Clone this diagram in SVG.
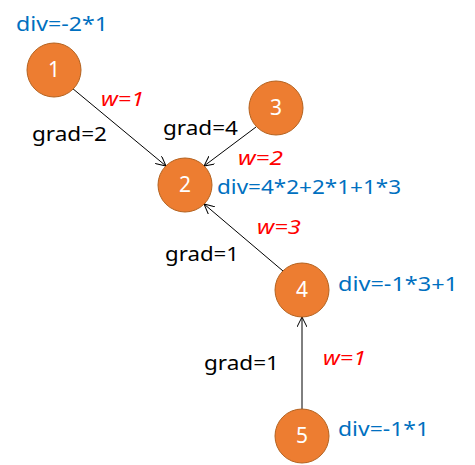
<svg xmlns="http://www.w3.org/2000/svg" width="475" height="465" viewBox="0 0 475 465">
<defs>
<style>
.node circle{fill:#ED7D31;stroke:#B4621F;stroke-width:1}
.node text{fill:#fff;font-family:"Noto Sans","Noto Sans CJK SC",sans-serif;font-size:21px;text-anchor:middle}
.edge{stroke:#000;stroke-width:1;fill:none;marker-end:url(#arr)}
.t{font-family:"Noto Sans","Noto Sans CJK SC",sans-serif;font-size:20px}
.div{fill:#0070C0}
.w{fill:#FF0000;font-style:italic}
.g{fill:#000}
</style>
<marker id="arr" viewBox="0 0 10 10" refX="10" refY="5" markerWidth="10" markerHeight="10" markerUnits="userSpaceOnUse" orient="auto">
<path d="M0,0 L10,5 L0,10" fill="none" stroke="#000" stroke-width="1"/>
</marker>
</defs>
<g id="connectors">
<line class="edge" x1="72" y1="88" x2="166" y2="166"/>
<line class="edge" x1="256" y1="127" x2="204" y2="166"/>
<line class="edge" x1="283" y1="271" x2="204" y2="204"/>
<line class="edge" x1="302" y1="409" x2="302" y2="317"/>
</g>
<g id="node1" class="node"><circle cx="54" cy="70" r="27"/><text x="54" y="77">1</text></g>
<g id="node2" class="node"><circle cx="185" cy="185" r="27"/><text x="185" y="192">2</text></g>
<g id="node3" class="node"><circle cx="276" cy="108" r="27"/><text x="276" y="115">3</text></g>
<g id="node4" class="node"><circle cx="302" cy="290" r="27"/><text x="302" y="297">4</text></g>
<g id="node5" class="node"><circle cx="302" cy="436" r="27"/><text x="302" y="443">5</text></g>
<g id="labels">
<text class="t div" x="16" y="31" textLength="92" lengthAdjust="spacingAndGlyphs">div=-2*1</text>
<text class="t w" x="101" y="106" textLength="43" lengthAdjust="spacingAndGlyphs">w=1</text>
<text class="t g" x="32" y="141" textLength="75" lengthAdjust="spacingAndGlyphs">grad=2</text>
<text class="t g" x="163" y="135" textLength="75" lengthAdjust="spacingAndGlyphs">grad=4</text>
<text class="t w" x="238" y="165" textLength="45" lengthAdjust="spacingAndGlyphs">w=2</text>
<text class="t div" x="217" y="194" textLength="184" lengthAdjust="spacingAndGlyphs">div=4*2+2*1+1*3</text>
<text class="t w" x="257" y="234" textLength="44" lengthAdjust="spacingAndGlyphs">w=3</text>
<text class="t g" x="165" y="261" textLength="74" lengthAdjust="spacingAndGlyphs">grad=1</text>
<text class="t div" x="338" y="291" textLength="120" lengthAdjust="spacingAndGlyphs">div=-1*3+1</text>
<text class="t g" x="204" y="370" textLength="75" lengthAdjust="spacingAndGlyphs">grad=1</text>
<text class="t w" x="323" y="365" textLength="43" lengthAdjust="spacingAndGlyphs">w=1</text>
<text class="t div" x="338" y="436" textLength="91" lengthAdjust="spacingAndGlyphs">div=-1*1</text>
</g>
</svg>
